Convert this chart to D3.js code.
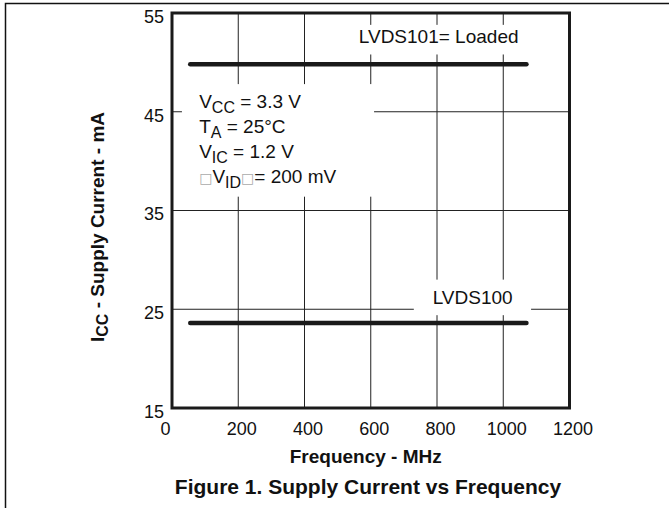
<!DOCTYPE html>
<html>
<head>
<meta charset="utf-8">
<script src="https://cdn.jsdelivr.net/npm/d3@7"></script>
<style>
  body { margin: 0; background: #fff; }
  svg { display: block; font-family: "Liberation Sans", Arial, sans-serif; }
</style>
</head>
<body>
<div id="chart"></div>
<script>
// data
const freqMHz = [55, 1070];
const lvds101Loaded = [49.8, 49.8];
const lvds100 = [23.6, 23.6];
const xTicks = [0, 200, 400, 600, 800, 1000, 1200];
const yTicks = [15, 25, 35, 45, 55];

const width = 669, height = 508;

const svg = d3.select("#chart")
    .append("svg")
    .attr("width", width)
    .attr("height", height);

// outer page frame (top and left edges only)
svg.append("path")
    .attr("d", "M5.5,508V3.5H669")
    .attr("fill", "none")
    .attr("stroke", "#111")
    .attr("stroke-width", 1.5);

const x = d3.scaleLinear().domain([0, 1200]).range([172, 569.5]);
const y = d3.scaleLinear().domain([15, 55]).range([408, 13]);

// grid
svg.append("g")
    .selectAll("line")
    .data(xTicks.slice(1, -1))
    .join("line")
    .attr("x1", d => x(d)).attr("x2", d => x(d))
    .attr("y1", y(55)).attr("y2", y(15))
    .attr("stroke", "#222")
    .attr("stroke-width", 1);

svg.append("g")
    .selectAll("line")
    .data(yTicks.slice(1, -1))
    .join("line")
    .attr("x1", x(0)).attr("x2", x(1200))
    .attr("y1", d => y(d)).attr("y2", d => y(d))
    .attr("stroke", "#222")
    .attr("stroke-width", 1);

// white boxes behind the annotations (they cut the grid)
const masks = [
    { x0: 30, x1: 610, y0: 47.8, y1: 36.4 },
    { x0: 560, x1: 1150, y0: 53.8, y1: 50.8 },
    { x0: 730, x1: 1084, y0: 28.0, y1: 24.4 }
];
svg.append("g")
    .selectAll("rect")
    .data(masks)
    .join("rect")
    .attr("x", d => x(d.x0))
    .attr("y", d => y(d.y0))
    .attr("width", d => x(d.x1) - x(d.x0))
    .attr("height", d => y(d.y1) - y(d.y0))
    .attr("fill", "#fff");

// plot frame
svg.append("rect")
    .attr("x", x(0)).attr("y", y(55))
    .attr("width", x(1200) - x(0))
    .attr("height", y(15) - y(55))
    .attr("fill", "none")
    .attr("stroke", "#1a1a1a")
    .attr("stroke-width", 3);

// axes (labels only)
const xAxis = svg.append("g")
    .attr("transform", `translate(0,${y(15)})`)
    .call(d3.axisBottom(x).tickValues(xTicks).tickSize(0).tickPadding(14).tickFormat(d3.format("d")));
xAxis.select(".domain").remove();
xAxis.selectAll("text")
    .attr("font-size", 18)
    .attr("font-family", "Liberation Sans, Arial, sans-serif")
    .attr("fill", "#111")
    .attr("text-anchor", (d, i) => i === 0 ? "end" : "middle")
    .attr("x", (d, i) => i === 0 ? -2 : 3);

const yAxis = svg.append("g")
    .attr("transform", `translate(${x(0)},0)`)
    .call(d3.axisLeft(y).tickValues(yTicks).tickSize(0).tickPadding(8));
yAxis.select(".domain").remove();
yAxis.selectAll("text")
    .attr("font-size", 18)
    .attr("font-family", "Liberation Sans, Arial, sans-serif")
    .attr("fill", "#111")
    .attr("dy", "0.52em");

// series
const line = d3.line().x(d => x(d[0])).y(d => y(d[1]));
const series = [d3.zip(freqMHz, lvds101Loaded), d3.zip(freqMHz, lvds100)];
svg.append("g")
    .selectAll("path")
    .data(series)
    .join("path")
    .attr("d", line)
    .attr("fill", "none")
    .attr("stroke", "#1a1a1a")
    .attr("stroke-width", 4.5)
    .attr("stroke-linecap", "round");

// series labels
svg.append("text")
    .attr("x", x(564)).attr("y", y(52.0))
    .attr("font-size", 19).attr("fill", "#111")
    .text("LVDS101= Loaded");

svg.append("text")
    .attr("x", x(787)).attr("y", y(25.5))
    .attr("font-size", 19).attr("fill", "#111")
    .text("LVDS100");

// conditions block
const cond = svg.append("text")
    .attr("x", x(82)).attr("y", y(45.4))
    .attr("font-size", 19).attr("fill", "#111");

function addLine(t, parts, first) {
    parts.forEach((p, i) => {
        const ts = t.append("tspan").text(p.s);
        if (i === 0) {
            ts.attr("x", x(82)).attr("dy", first ? 0 : 25);
        }
        if (p.sub) ts.attr("font-size", 16).attr("dy", i === 0 ? null : 5);
        else if (i > 0 && parts[i - 1].sub) ts.attr("dy", -5);
        if (p.box) ts.attr("fill", "#aaa").attr("font-family", "DejaVu Sans").attr("font-size", 14);
    });
}
addLine(cond, [{ s: "V" }, { s: "CC", sub: true }, { s: " = 3.3 V" }], true);
addLine(cond, [{ s: "T" }, { s: "A", sub: true }, { s: " = 25°C" }]);
addLine(cond, [{ s: "V" }, { s: "IC", sub: true }, { s: " = 1.2 V" }]);
addLine(cond, [{ s: "□", box: true }, { s: "V" }, { s: "ID", sub: true }, { s: "□", box: true }, { s: "= 200 mV" }]);

// axis titles
svg.append("text")
    .attr("x", (x(0) + x(1200)) / 2 - 5).attr("y", 463)
    .attr("text-anchor", "middle")
    .attr("font-size", 19).attr("font-weight", "bold").attr("fill", "#111")
    .text("Frequency - MHz");

const yTitle = svg.append("text")
    .attr("transform", "translate(104,227) rotate(-90)")
    .attr("text-anchor", "middle")
    .attr("font-size", 19).attr("font-weight", "bold").attr("fill", "#111");
yTitle.append("tspan").text("I");
yTitle.append("tspan").text("CC").attr("font-size", 16).attr("dy", 4);
yTitle.append("tspan").text(" - Supply Current - mA").attr("dy", -4);

svg.append("text")
    .attr("x", 368).attr("y", 494)
    .attr("text-anchor", "middle")
    .attr("font-size", 21).attr("font-weight", "bold").attr("fill", "#111")
    .text("Figure 1. Supply Current vs Frequency");
</script>
</body>
</html>
